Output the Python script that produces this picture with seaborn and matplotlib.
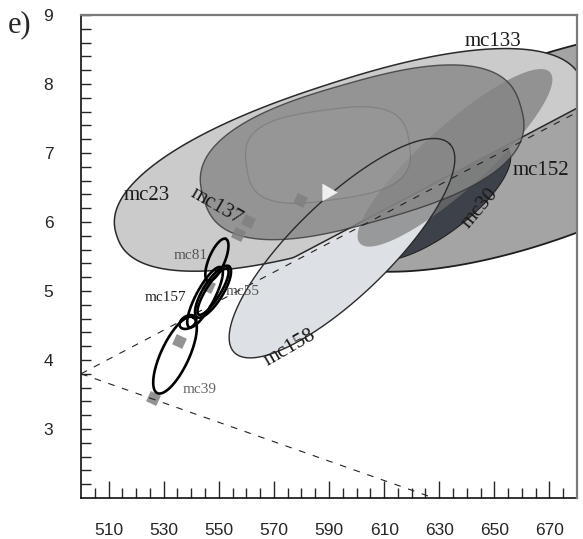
import numpy as np
import matplotlib
matplotlib.use("Agg")
import matplotlib.pyplot as plt
import seaborn as sns

# ---- confidence regions (centre, semi-axes in x-units, tilt in degrees, squareness) ----
region_names = ["mc152", "mc30", "mc158", "mc23_mc133", "mc152_core", "mc137", "mc137_core"]
region_cx = [666.5, 629.5, 594.7, 597.6, 635.7, 602.0, 589.6]
region_cy = [7.04, 6.29, 5.62, 6.90, 6.93, 7.01, 6.97]
region_a = [92.5, 31.9, 54.4, 89.0, 46.4, 59.9, 29.8]
region_b = [32.7, 11.6, 17.4, 28.5, 11.6, 25.4, 16.3]
region_tilt = [20, 37, 44, 18, 42, 16, 8]
region_n = [2, 2, 2, 2.3, 2, 2.6, 3]

# ---- small outlined ellipses ----
ring_names = ["mc81", "mc55", "mc55_inner", "mc157", "mc157_loop", "mc39"]
ring_cx = [549.3, 547.9, 547.9, 545.0, 538.8, 534.1]
ring_cy = [5.45, 4.99, 4.99, 4.91, 4.55, 4.07]
ring_a = [8.3, 10.9, 9.8, 12.3, 3.3, 15.2]
ring_b = [2.9, 3.6, 2.6, 3.3, 2.2, 5.1]
ring_tilt = [67, 58, 58, 62, 30, 65]

# ---- mean positions ----
mean_x = [526.1, 535.6, 546.1, 557.0, 560.6, 579.5]
mean_y = [3.45, 4.28, 5.07, 5.83, 6.01, 6.32]
tri_x = [589.3]
tri_y = [6.43]

# ---- guide lines ----
guide1_x = [500, 680]
guide1_y = [3.80, 7.59]
guide2_x = [500, 628]
guide2_y = [3.80, 2.00]

# ---- labels ----
big_label_text = ["mc133", "mc23", "mc137", "mc152", "mc30", "mc158"]
big_label_x = [649.5, 524.0, 549.0, 666.9, 644.8, 575.8]
big_label_y = [8.61, 6.39, 6.23, 6.75, 6.20, 4.17]
big_label_rot = [0, 0, -30, 0, 50, 30]
small_label_text = ["mc81", "mc157", "mc55", "mc39"]
small_label_x = [539.9, 530.8, 558.8, 543.2]
small_label_y = [5.52, 4.90, 4.99, 3.57]
small_label_col = ["#555555", "#222222", "#555555", "#666666"]

x_major = [510, 530, 550, 570, 590, 610, 630, 650, 670]
y_major = [3, 4, 5, 6, 7, 8, 9]

sns.set_style("ticks")
serif = ["Liberation Serif", "DejaVu Serif"]
sans = ["Liberation Sans", "DejaVu Sans"]
plt.rcParams["font.family"] = sans

fig = plt.figure(figsize=(5.83, 5.39), dpi=100)
ax = fig.add_axes([0.139, 0.0761, 0.8508, 0.8961])
ax.set_xlim(500, 680)
ax.set_ylim(2, 9)

# display aspect: how many x-units one y-unit spans on screen
bbox = ax.get_position()
W, H = fig.get_size_inches()
k = (bbox.height * H / 7.0) / (bbox.width * W / 180.0)


def region_xy(cx, cy, a, b, tilt, n=2.0, npts=400):
    t = np.linspace(0, 2 * np.pi, npts)
    c, s = np.cos(t), np.sin(t)
    u = a * np.sign(c) * np.abs(c) ** (2.0 / n)
    v = b * np.sign(s) * np.abs(s) ** (2.0 / n)
    th = np.radians(tilt)
    dx = u * np.cos(th) - v * np.sin(th)
    dy = u * np.sin(th) + v * np.cos(th)
    return cx + dx, cy + dy / k


R = {name: region_xy(region_cx[i], region_cy[i], region_a[i], region_b[i],
                     region_tilt[i], region_n[i])
     for i, name in enumerate(region_names)}

# lower layers
x, y = R["mc152"]
ax.fill(x, y, color="#a4a4a4", ec="#1e1e1e", lw=1.3, zorder=1)
x, y = R["mc30"]
ax.fill(x, y, color="#3d4149", ec="#222222", lw=0.8, zorder=1.2)
x, y = R["mc158"]
ax.fill(x, y, color="#dde0e4", lw=0, zorder=1.4)

# light region of mc23 / mc133, bounded below by the upper guide line
x, y = R["mc23_mc133"]
floor = np.interp(x, guide1_x, guide1_y) + 0.06
y = np.maximum(y, floor)
ax.fill(x, y, color="#cbcbcb", ec="#2a2a2a", lw=1.1, zorder=2.0)

x, y = R["mc152_core"]
ax.fill(x, y, color="#747474", alpha=0.65, lw=0, zorder=2.4)
x, y = R["mc137"]
ax.fill(x, y, color="#858585", alpha=0.78, ec="#333333", lw=1.0, zorder=2.6)
x, y = R["mc137_core"]
ax.fill(x, y, color="#9c9c9c", alpha=0.35, ec="#5e5e5e", lw=0.9, zorder=2.7)
x, y = R["mc158"]
ax.plot(x, y, color="#2a2a2a", lw=1.0, zorder=2.8)

# means
sns.scatterplot(x=mean_x, y=mean_y, marker=(4, 0, 20), s=130, color="#808080",
                alpha=0.85, linewidth=0, ax=ax, zorder=3)
sns.scatterplot(x=tri_x, y=tri_y, marker=(3, 0, -90), s=220, color="#efefef",
                linewidth=0, ax=ax, zorder=3.1)

# guide lines
for gx, gy in [(guide1_x, guide1_y), (guide2_x, guide2_y)]:
    sns.lineplot(x=gx, y=gy, sort=False, color="#222222", lw=0.8,
                 dashes=False, ax=ax, zorder=3.5)
for line in ax.lines[-2:]:
    line.set_linestyle((0, (6, 7)))

# small ellipses
for i in range(len(ring_names)):
    x, y = region_xy(ring_cx[i], ring_cy[i], ring_a[i], ring_b[i], ring_tilt[i])
    ax.plot(x, y, color="black", lw=1.9, zorder=4)

for t, lx, ly, r in zip(big_label_text, big_label_x, big_label_y, big_label_rot):
    ax.text(lx, ly, t, rotation=r, ha="center", va="center", fontsize=15,
            family=serif, color="#1a1a1a", zorder=5, rotation_mode="anchor")
for t, lx, ly, c in zip(small_label_text, small_label_x, small_label_y, small_label_col):
    ax.text(lx, ly, t, ha="center", va="center", fontsize=11, family=serif,
            color=c, zorder=5)

fig.text(0.034, 0.954, "e)", fontsize=22, family=serif, ha="center", va="center")

# axes cosmetics
ax.set_xticks(x_major)
ax.set_yticks(y_major)
ax.set_xticks(np.arange(505, 680, 5), minor=True)
ax.set_yticks(np.arange(2.2, 9.0, 0.2), minor=True)
ax.tick_params(axis="x", which="major", direction="in", length=12, width=1,
               labelsize=12.5, pad=18)
ax.tick_params(axis="x", which="minor", direction="in", length=7, width=1)
ax.tick_params(axis="y", which="both", direction="in", length=7, width=1,
               labelsize=12.5, pad=20)
ax.set_xlabel("")
ax.set_ylabel("")
for s in ["left", "bottom"]:
    ax.spines[s].set_color("#111111")
    ax.spines[s].set_linewidth(1.2)
for s in ["top", "right"]:
    ax.spines[s].set_visible(True)
    ax.spines[s].set_color("#7a7a7a")
    ax.spines[s].set_linewidth(1.6)
    ax.spines[s].set_zorder(6)

fig.savefig("out.png", dpi=100, facecolor="white")
